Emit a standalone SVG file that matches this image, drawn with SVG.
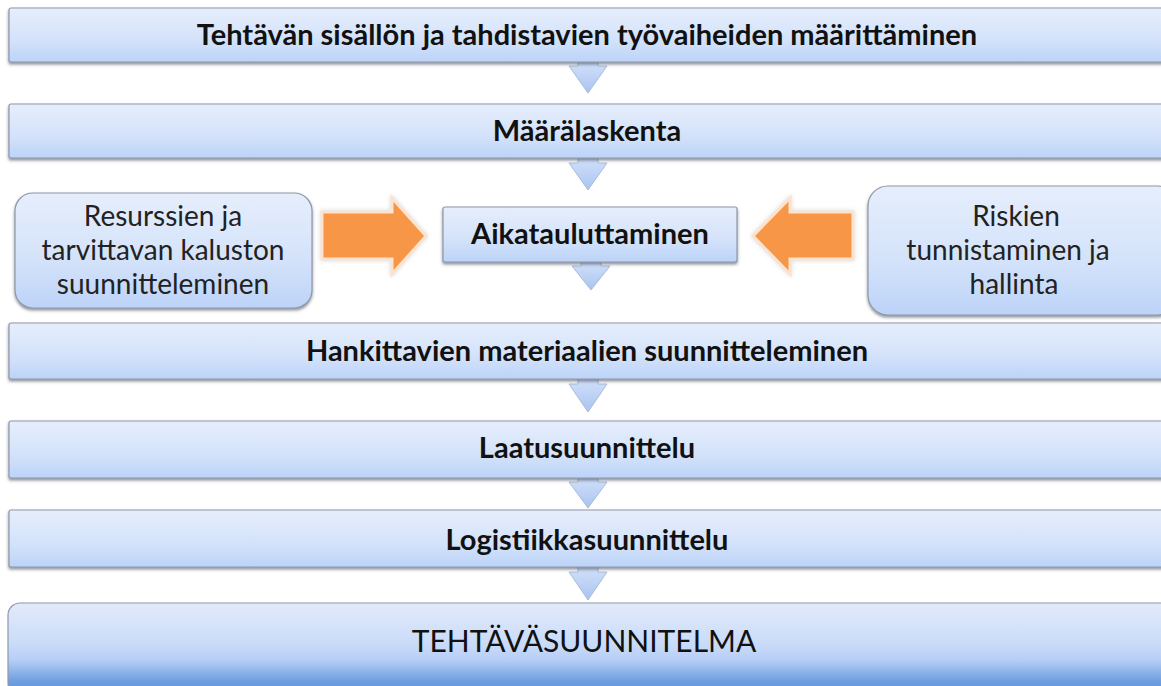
<svg xmlns="http://www.w3.org/2000/svg" width="1161" height="686" viewBox="0 0 1161 686">
<defs>
<linearGradient id="gBox" x1="0" y1="0" x2="0" y2="1">
<stop offset="0" stop-color="#e6eefc"/>
<stop offset="0.6" stop-color="#d3e2fa"/>
<stop offset="1" stop-color="#bcd3f8"/>
</linearGradient>
<linearGradient id="gFinal" x1="0" y1="0" x2="0" y2="1">
<stop offset="0" stop-color="#e3ebfb"/>
<stop offset="0.45" stop-color="#c9dbf9"/>
<stop offset="0.62" stop-color="#b6cef6"/>
<stop offset="0.85" stop-color="#6e9ee0"/>
<stop offset="1" stop-color="#5f92dc"/>
</linearGradient>
<linearGradient id="gArrow" x1="0" y1="0" x2="0" y2="1">
<stop offset="0" stop-color="#d4e2fa"/>
<stop offset="1" stop-color="#a9c4f0"/>
</linearGradient>
<filter id="sh" x="-5%" y="-20%" width="110%" height="150%">
<feDropShadow dx="0" dy="2" stdDeviation="1.5" flood-color="#404a5a" flood-opacity="0.6"/>
</filter>
<filter id="glow" x="-20%" y="-20%" width="140%" height="140%">
<feDropShadow dx="0" dy="0" stdDeviation="2" flood-color="#c8c8c8" flood-opacity="0.7"/>
</filter>
<style>
.box{fill:url(#gBox);stroke:#8e98a8;stroke-width:1.2;filter:url(#sh)}
.fin{fill:url(#gFinal);stroke:#8e98a8;stroke-width:1.2}
.dn{fill:url(#gArrow);stroke:#a9bcd8;stroke-width:1}
.or{fill:#f79646;stroke:#fbe3cf;stroke-width:3;stroke-linejoin:miter;filter:url(#glow)}
.tb{font-family:Lato,"Liberation Sans",sans-serif;font-weight:bold;font-size:29px;fill:#111;text-anchor:middle}
.tr{font-family:Lato,"Liberation Sans",sans-serif;font-size:28px;fill:#222;text-anchor:middle}
.tf{font-family:Lato,"Liberation Sans",sans-serif;font-size:30px;fill:#111;text-anchor:middle}
</style>
</defs>
<rect width="1161" height="686" fill="#ffffff"/>

<g id="connectors">
<path class="dn" d="M578,60 L598,60 L598,66 L607,66 L588,93 L569,66 L578,66 Z"/>
<path class="dn" d="M578,156 L598,156 L598,163 L607,163 L588,190 L569,163 L578,163 Z"/>
<path class="dn" d="M581,260 L601,260 L601,266 L610,266 L591,290 L572,266 L581,266 Z"/>
<path class="dn" d="M578,377 L598,377 L598,384 L607,384 L588,412 L569,384 L578,384 Z"/>
<path class="dn" d="M578,476 L598,476 L598,482 L607,482 L588,508 L569,482 L578,482 Z"/>
<path class="dn" d="M578,565 L598,565 L598,572 L607,572 L588,600 L569,572 L578,572 Z"/>
<path class="or" d="M322,212 L392,212 L392,198 L426,236 L392,274 L392,259 L322,259 Z"/>
<path class="or" d="M853,212 L790,212 L790,198 L753,236 L790,274 L790,259 L853,259 Z"/>
</g>

<g id="n1">
<rect class="box" x="9" y="8" width="1170" height="54" rx="2"/>
<text class="tb" x="587" y="45">Tehtävän sisällön ja tahdistavien työvaiheiden määrittäminen</text>
</g>
<g id="n2">
<rect class="box" x="9" y="104" width="1170" height="54" rx="2"/>
<text class="tb" x="587" y="141">Määrälaskenta</text>
</g>
<g id="n3">
<rect class="box" x="15" y="193" width="297" height="115" rx="18"/>
<text class="tr" x="163" y="226">Resurssien ja</text>
<text class="tr" x="163" y="260">tarvittavan kaluston</text>
<text class="tr" x="163" y="294">suunnitteleminen</text>
</g>
<g id="n4">
<rect class="box" x="443" y="207" width="294" height="55" rx="2"/>
<text class="tb" x="590" y="244">Aikatauluttaminen</text>
</g>
<g id="n5">
<rect class="box" x="868" y="186" width="310" height="129" rx="20"/>
<text class="tr" x="1016" y="226">Riskien</text>
<text class="tr" x="1008" y="260">tunnistaminen  ja</text>
<text class="tr" x="1014" y="294">hallinta</text>
</g>
<g id="n6">
<rect class="box" x="9" y="323" width="1170" height="56" rx="2"/>
<text class="tb" x="587" y="361">Hankittavien materiaalien suunnitteleminen</text>
</g>
<g id="n7">
<rect class="box" x="9" y="421" width="1170" height="57" rx="2"/>
<text class="tb" x="587" y="458">Laatusuunnittelu</text>
</g>
<g id="n8">
<rect class="box" x="9" y="510" width="1170" height="57" rx="2"/>
<text class="tb" x="587" y="550">Logistiikkasuunnittelu</text>
</g>
<g id="n9">
<rect class="fin" x="8" y="603" width="1170" height="92" rx="12"/>
<text class="tf" x="584" y="652">TEHTÄVÄSUUNNITELMA</text>
</g>
</svg>
